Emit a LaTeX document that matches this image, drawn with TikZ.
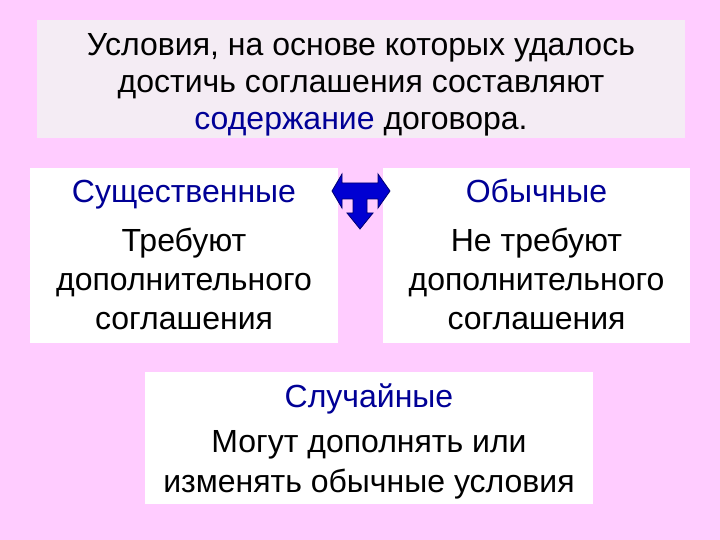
\documentclass[tikz,border=0pt]{standalone}
\usepackage{fontspec}
\setmainfont{Liberation Sans}
\definecolor{bgpink}{RGB}{255,204,255}
\definecolor{topfill}{RGB}{244,236,244}
\definecolor{txtblue}{RGB}{0,0,150}
\definecolor{arrblue}{RGB}{0,0,210}
\definecolor{arredge}{RGB}{0,0,110}
\tikzset{
  panel/.style={fill=white, draw=none, inner sep=0pt},
  txt/.style={align=center, inner sep=0pt, font=\fontsize{32}{39}\selectfont},
}
\begin{document}
\begin{tikzpicture}[x=1pt,y=-1pt]
\fill[bgpink] (0,0) rectangle (720,540);
\useasboundingbox (0,0) rectangle (720,540);
% boxes
\node[panel, fill=topfill, minimum width=648, minimum height=118] (top) at (361,79) {};
\node[panel, minimum width=308, minimum height=175] (left) at (184,255.5) {};
\node[panel, minimum width=307, minimum height=175] (right) at (536.5,255.5) {};
\node[panel, minimum width=448, minimum height=132] (bottom) at (369,438) {};
% texts (anchor=base gives the baseline of the last line)
\node[txt, anchor=base, font=\fontsize{32}{37}\selectfont] (toptxt) at (361,130)
  {Условия, на основе которых удалось\\достичь соглашения составляют\\\textcolor{txtblue}{содержание} договора.};
\node[txt, anchor=base, text=txtblue] (lt) at (184,203) {Существенные};
\node[txt, anchor=base] (lb) at (184,329) {Требуют\\дополнительного\\соглашения};
\node[txt, anchor=base, text=txtblue] (rt) at (536.5,203) {Обычные};
\node[txt, anchor=base] (rb) at (536.5,329) {Не требуют\\дополнительного\\соглашения};
\node[txt, anchor=base, text=txtblue] (bt) at (369,407) {Случайные};
\node[txt, anchor=base, font=\fontsize{32}{40}\selectfont] (bb) at (369,492) {Могут дополнять или\\изменять обычные условия};
% three-way arrow
\filldraw[fill=arrblue, draw=arredge, line width=0.8, line join=miter]
  (332,191) -- (342,174) -- (342,183) -- (378,183) -- (378,174) -- (390,191)
  -- (378,208) -- (378,199) -- (367,199) -- (367,213) -- (373,213) -- (360,229)
  -- (347,213) -- (353,213) -- (353,199) -- (342,199) -- (342,208) -- cycle;
\end{tikzpicture}
\end{document}
